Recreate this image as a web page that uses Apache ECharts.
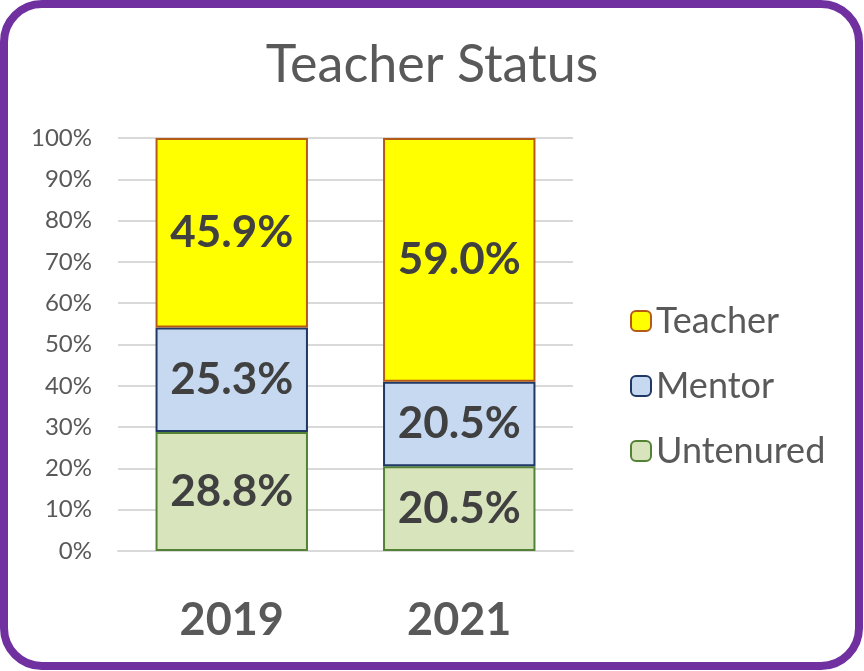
<!DOCTYPE html>
<html>
<head>
<meta charset="utf-8">
<script src="https://cdn.jsdelivr.net/npm/echarts@6/dist/echarts.min.js"></script>
<style>
    html, body { margin: 0; padding: 0; background: #fff; }
    #main { width: 864px; height: 671px; }
</style>
</head>
<body>
<div id="main"></div>
<script>
var years = ['2019', '2021'];
var untenured = [28.8, 20.5];
var mentor = [25.3, 20.5];
var teacher = [45.9, 59.0];

var font = 'Lato, "Open Sans", sans-serif';

function barLabel() {
    return {
        show: true,
        position: 'inside',
        fontFamily: font,
        fontSize: 44,
        fontWeight: 'bold',
        color: '#404040',
        formatter: function (p) {
            return p.value.toFixed(1) + '%';
        }
    };
}

var myChart = echarts.init(document.getElementById('main'));
var option = {
    backgroundColor: '#fff',
    animation: false,
    title: {
        text: 'Teacher Status',
        left: 'center',
        top: 34,
        textStyle: {
            fontFamily: font,
            fontSize: 52,
            fontWeight: 'normal',
            color: '#595959'
        }
    },
    graphic: [{
        type: 'rect',
        shape: { x: 4, y: 4, width: 855, height: 662, r: 38 },
        style: { fill: 'none', stroke: '#7030a0', lineWidth: 8 },
        z: 100
    }],
    legend: {
        orient: 'vertical',
        left: 625,
        top: 298,
        itemWidth: 20,
        itemHeight: 20,
        itemGap: 29,
        data: ['Teacher', 'Mentor', 'Untenured'],
        textStyle: {
            fontFamily: font,
            fontSize: 36,
            color: '#595959'
        }
    },
    grid: {
        left: 118,
        right: 291,
        top: 138,
        bottom: 120
    },
    xAxis: {
        type: 'category',
        data: years,
        axisTick: { show: false },
        axisLine: { lineStyle: { color: '#d9d9d9', width: 2 } },
        axisLabel: {
            margin: 47,
            fontFamily: font,
            fontSize: 45,
            fontWeight: 'bold',
            color: '#595959'
        }
    },
    yAxis: {
        type: 'value',
        min: 0,
        max: 100,
        interval: 10,
        axisLabel: {
            formatter: '{value}%',
            fontFamily: font,
            fontSize: 24,
            color: '#595959',
            margin: 26
        },
        splitLine: { lineStyle: { color: '#d9d9d9', width: 2 } }
    },
    series: [{
        name: 'Untenured',
        type: 'bar',
        stack: 'all',
        barWidth: '67%',
        data: untenured,
        itemStyle: { color: '#d8e4bc', borderColor: '#548235', borderWidth: 2 },
        label: barLabel()
    }, {
        name: 'Mentor',
        type: 'bar',
        stack: 'all',
        data: mentor,
        itemStyle: { color: '#c6d9f0', borderColor: '#1f3864', borderWidth: 2 },
        label: barLabel()
    }, {
        name: 'Teacher',
        type: 'bar',
        stack: 'all',
        data: teacher,
        itemStyle: { color: '#ffff00', borderColor: '#b45a14', borderWidth: 2 },
        label: barLabel()
    }]
};
myChart.setOption(option);
</script>
</body>
</html>
